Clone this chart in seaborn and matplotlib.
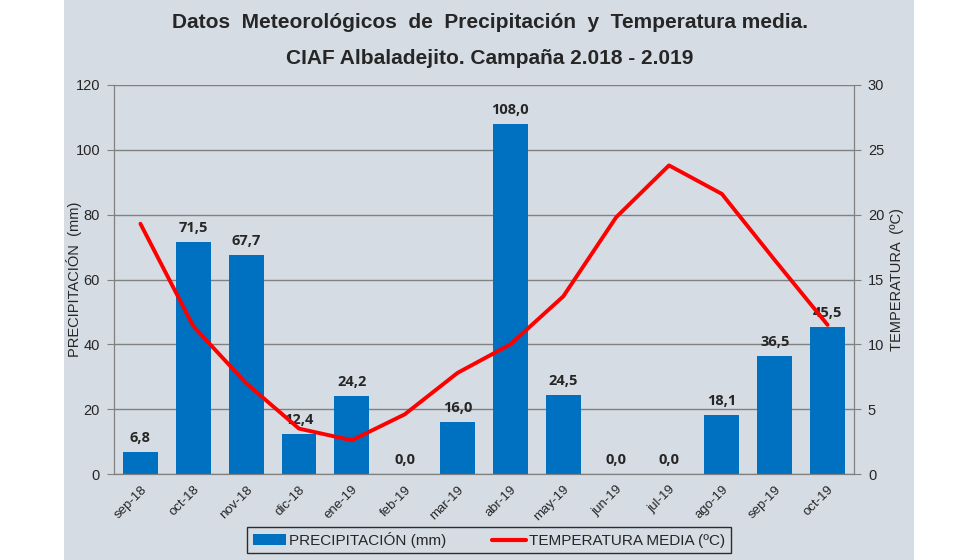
import numpy as np
import pandas as pd
import seaborn as sns
import matplotlib
matplotlib.use('Agg')
import matplotlib.pyplot as plt
from matplotlib.patches import Rectangle, Patch
from matplotlib.lines import Line2D

months = ['sep-18', 'oct-18', 'nov-18', 'dic-18', 'ene-19', 'feb-19', 'mar-19',
          'abr-19', 'may-19', 'jun-19', 'jul-19', 'ago-19', 'sep-19', 'oct-19']
precip = [6.8, 71.5, 67.7, 12.4, 24.2, 0.0, 16.0, 108.0, 24.5, 0.0, 0.0, 18.1, 36.5, 45.5]
temp = [19.3, 11.4, 7.0, 3.5, 2.6, 4.6, 7.8, 10.0, 13.7, 19.8, 23.8, 21.6, 16.5, 11.5]

BG = '#d6dce4'
BLUE = '#0070c0'
RED = '#ff0000'
NARROW = ['Liberation Sans Narrow', 'Liberation Sans', 'DejaVu Sans']

sns.set_style('white')
plt.rcParams['font.family'] = ['Liberation Sans', 'DejaVu Sans']

df = pd.DataFrame({'mes': months, 'precip': precip, 'temp': temp})

fig = plt.figure(figsize=(9.8, 5.6), dpi=100, facecolor='white')
fig.patches.append(Rectangle((64 / 980, 0), 850 / 980, 1, transform=fig.transFigure,
                             facecolor=BG, edgecolor='none', zorder=-10))
ax = fig.add_axes([114 / 980, 1 - 474 / 560, 740 / 980, 389 / 560])
ax.set_facecolor(BG)

sns.barplot(data=df, x='mes', y='precip', color=BLUE, width=0.66, saturation=1,
            linewidth=0, ax=ax, zorder=2)
ax.set_ylim(0, 120)
ax.set_yticks(range(0, 121, 20))
ax.set_xlim(-0.5, len(months) - 0.5)
ax.yaxis.grid(True, color='#808080', linewidth=1)
ax.set_axisbelow(True)

labels = [f'{v:.1f}'.replace('.', ',') for v in precip]
ax.bar_label(ax.containers[0], labels=labels, padding=5, fontsize=10.5,
             fontweight='bold', family=['Open Sans', 'DejaVu Sans'])

ax.set_xlabel('')
ax.set_ylabel('PRECIPITACIÓN  (mm)', fontsize=10.5)
ax.yaxis.set_label_coords((82 - 114) / 740, 0.5)
ax.set_xticks(range(len(months)))
ax.set_xticklabels(months, rotation=45, ha='right', rotation_mode='anchor',
                   fontsize=9.5)
ax.tick_params(axis='x', length=0, pad=7)
ax.set_xticks(np.arange(-0.5, len(months), 1), minor=True)
ax.tick_params(axis='x', which='minor', length=5, color='#808080')
ax.tick_params(axis='y', length=5, color='#808080', labelsize=10.5, pad=5, left=True)

ax2 = ax.twinx()
sns.lineplot(x=np.arange(len(months)), y=temp, color=RED, linewidth=2.8, ax=ax2)
ax2.set_ylim(0, 30)
ax2.set_yticks(range(0, 31, 5))
ax2.tick_params(axis='y', length=5, color='#808080', labelsize=10.5, pad=5, right=True)
ax2.set_ylabel('TEMPERATURA  (ºC)', fontsize=10.5)
ax2.yaxis.set_label_coords((890 - 114) / 740, 0.5)

for a in (ax, ax2):
    a.spines['top'].set_visible(False)
    for side in ('left', 'right', 'bottom'):
        a.spines[side].set_color('#808080')

fig.text(0.5, 1 - 22 / 560, 'Datos  Meteorológicos  de  Precipitación  y  Temperatura media.',
         ha='center', va='center', fontsize=15, fontweight='bold', family=NARROW)
fig.text(0.5, 1 - 58 / 560, 'CIAF Albaladejito. Campaña 2.018 - 2.019',
         ha='center', va='center', fontsize=15, fontweight='bold', family=NARROW)

handles = [Patch(facecolor=BLUE, edgecolor='none'),
           Line2D([0], [0], color=RED, linewidth=3)]
leg = fig.legend(handles, ['PRECIPITACIÓN (mm)', 'TEMPERATURA MEDIA (ºC)'],
                 loc='center', bbox_to_anchor=(489 / 980, 1 - 540 / 560), ncol=2,
                 frameon=True, fancybox=False, facecolor=BG, edgecolor='black',
                 prop={'family': NARROW, 'size': 11}, columnspacing=3.0,
                 handlelength=2.2, handletextpad=0.2, borderpad=0.35)
leg.get_frame().set_linewidth(1.0)

fig.savefig('out.png', dpi=100, facecolor='white')
